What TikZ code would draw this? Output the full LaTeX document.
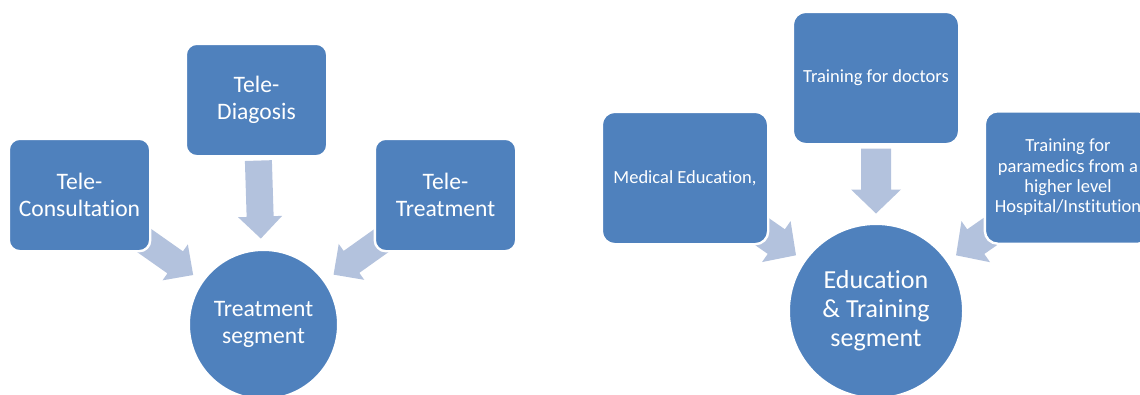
\documentclass[tikz,border=0pt]{standalone}
\usepackage{fontspec}
\setmainfont{Carlito}[Ligatures=NoCommon]
\usetikzlibrary{calc,backgrounds}

\definecolor{boxblue}{RGB}{79,129,189}
\definecolor{arrowblue}{RGB}{179,194,221}

\tikzset{
  tile/.style={rectangle, fill=boxblue, draw=white, line width=2.4pt,
    text=white, align=center, inner sep=0pt},
  smalltile/.style={tile, minimum width=141.4pt, minimum height=112.4pt,
    rounded corners=11pt, font=\fontsize{23.6}{26.5}\selectfont},
  bigtile/.style={tile, minimum width=166.4pt, minimum height=132.4pt,
    rounded corners=13pt, font=\fontsize{18.5}{20.3}\selectfont},
  hub/.style={circle, fill=boxblue, draw=white, line width=2.4pt,
    text=white, align=center, inner sep=0pt},
}

% Block arrow from a source tile towards a hub circle.
% #1 source node, #2 hub node, #3 distance of the tip from the hub centre,
% #4 arrow length, #5 shaft half width, #6 head half width, #7 head length
\newcommand{\feedarrow}[7]{%
  \coordinate (fa-tip) at ($(#2.center)!#3!(#1.center)$);
  \coordinate (fa-tail) at ($(fa-tip)!#4!(#1.center)$);
  \coordinate (fa-neck) at ($(fa-tip)!#7!(#1.center)$);
  \fill[arrowblue]
    ($(fa-tail)!#5!90:(fa-tip)$) -- ($(fa-neck)!#5!90:(fa-tip)$)
    -- ($(fa-neck)!#6!90:(fa-tip)$) -- (fa-tip)
    -- ($(fa-neck)!#6!-90:(fa-tip)$) -- ($(fa-neck)!#5!-90:(fa-tip)$)
    -- ($(fa-tail)!#5!-90:(fa-tip)$) -- cycle;
}

\begin{document}
\begin{tikzpicture}[x=1pt, y=-1pt]
  \useasboundingbox (0,0) rectangle (1140,394);
  \clip (0,0) rectangle (1140,394);

  % Treatment segment
  \node[smalltile] (cons)  at (79.5,195)  {Tele-\\Consultation};
  \node[smalltile] (diag)  at (256.5,100) {Tele-\\Diagosis};
  \node[smalltile] (treat) at (445.5,195) {Tele-\\Treatment};
  \node[hub, minimum size=149.4pt, font=\fontsize{23.6}{26.5}\selectfont]
    (tseg) at (263.5,324.5) {Treatment\\segment};

  % Education & Training segment
  \node[bigtile] (med)  at (685,178)   {Medical Education,};
  \node[bigtile] (doc)  at (876,78)    {Training for doctors};
  \node[bigtile] (para) at (1068,177.5)
    {Training for\\paramedics from a\\higher level\\Hospital/Institution};
  \node[hub, minimum size=174.4pt, font=\fontsize{26}{29}\selectfont]
    (eseg) at (876,311) {Education\\\& Training\\segment};

  \begin{pgfonlayer}{background}
    \feedarrow{cons}{tseg}{86pt}{78pt}{13.5pt}{22pt}{22pt}
    \feedarrow{diag}{tseg}{86pt}{78pt}{13.5pt}{22pt}{22pt}
    \feedarrow{treat}{tseg}{86pt}{78pt}{13.5pt}{22pt}{22pt}
    \feedarrow{med}{eseg}{97.5pt}{65pt}{15pt}{25pt}{24pt}
    \feedarrow{doc}{eseg}{97.5pt}{65pt}{15pt}{25pt}{24pt}
    \feedarrow{para}{eseg}{97.5pt}{65pt}{15pt}{25pt}{24pt}
  \end{pgfonlayer}
\end{tikzpicture}
\end{document}
